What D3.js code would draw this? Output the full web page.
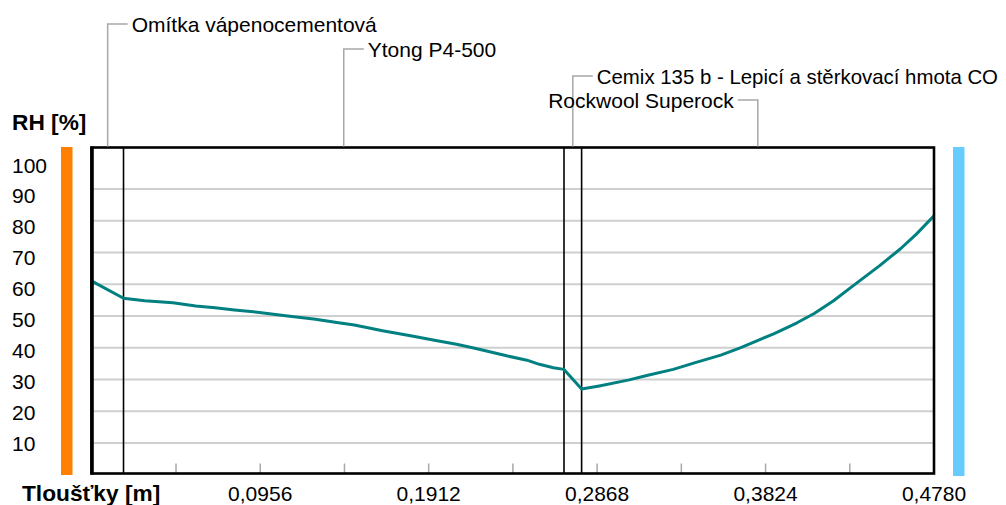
<!DOCTYPE html>
<html>
<head>
<meta charset="utf-8">
<script src="https://cdn.jsdelivr.net/npm/d3@7"></script>
<style>
  html, body { margin: 0; padding: 0; background: #fff; }
  svg { display: block; }
  text { font-family: "Liberation Sans", Arial, sans-serif; fill: #000; }
</style>
</head>
<body>
<svg id="chart" width="1006" height="505"></svg>
<script>
// ---- data ----
const layerNames = ["Omítka vápenocementová", "Ytong P4-500", "Cemix 135 b - Lepicí a stěrkovací hmota CO", "Rockwool Superock"];
const layerThickness = [0.018, 0.25, 0.01, 0.2];
const depth = [0, 0.018, 0.030, 0.046, 0.059, 0.070, 0.081, 0.094, 0.110, 0.127,
               0.140, 0.149, 0.156, 0.165, 0.173, 0.184, 0.196, 0.207, 0.218, 0.236, 0.247,
               0.254, 0.262, 0.268, 0.278, 0.288, 0.305, 0.315, 0.330, 0.343, 0.357,
               0.368, 0.387, 0.400, 0.410, 0.421, 0.432, 0.447, 0.459, 0.468, 0.478];
const rh = [61.0, 55.6, 54.8, 54.2, 53.2, 52.6, 51.9, 51.2, 50.1, 49.0,
            47.9, 47.2, 46.4, 45.4, 44.6, 43.5, 42.2, 41.1, 39.8, 37.4, 36.1,
            34.8, 33.7, 33.2, 27.0, 28.0, 29.9, 31.3, 33.2, 35.4, 37.7,
            40.0, 44.4, 47.8, 50.8, 54.8, 59.5, 65.8, 71.2, 75.8, 81.6];
const yTickValues = [10, 20, 30, 40, 50, 60, 70, 80, 90, 100];
const gridValues = [10, 20, 30, 40, 50, 60, 70, 80, 90];
const xLabelValues = [0.0956, 0.1912, 0.2868, 0.3824, 0.4780];
const yTitle = "RH [%]";
const xTitle = "Tloušťky [m]";

// ---- layout ----
const svg = d3.select("#chart");
const total = d3.sum(layerThickness);
const x = d3.scaleLinear().domain([0, total]).range([91.8, 934]);
const y = d3.scaleLinear().domain([0, 100]).range([474.8, 157.3]);
const yLabel = d3.scaleLinear().domain([10, 100]).range([443, 165]); // label centres as drawn
const plotTop = 147.5, plotBottom = 473.5;
const fmt = v => d3.format(".4f")(v).replace(".", ",");

// side bars
svg.append("rect").attr("x", 61).attr("y", 147).attr("width", 11.5).attr("height", 328).attr("fill", "#ff8000");
svg.append("rect").attr("x", 953).attr("y", 147).attr("width", 11.5).attr("height", 329).attr("fill", "#66ccff");

// gridlines
svg.append("g").selectAll("line").data(gridValues).join("line")
  .attr("x1", x(0)).attr("x2", x(total))
  .attr("y1", d => y(d)).attr("y2", d => y(d))
  .attr("stroke", "#cfcfcf").attr("stroke-width", 2);

// minor x ticks
const tickStep = total / 10;
const minorTicks = d3.range(1, 10).map(i => i * tickStep);
svg.append("g").selectAll("line").data(minorTicks).join("line")
  .attr("x1", d => x(d)).attr("x2", d => x(d))
  .attr("y1", plotBottom - 10).attr("y2", plotBottom)
  .attr("stroke", "#a8a8a8").attr("stroke-width", 1.5);

// layer boundaries
const bounds = d3.cumsum(layerThickness);
const starts = [0, ...bounds.slice(0, -1)];
svg.append("g").selectAll("line").data(bounds.slice(0, -1)).join("line")
  .attr("x1", d => x(d)).attr("x2", d => x(d))
  .attr("y1", plotTop).attr("y2", plotBottom)
  .attr("stroke", "#000").attr("stroke-width", 1.6);

// RH curve
const line = d3.line().x((d, i) => x(depth[i])).y(d => y(d));
svg.append("path").datum(rh).attr("d", line)
  .attr("fill", "none").attr("stroke", "#008080").attr("stroke-width", 3)
  .attr("stroke-linejoin", "round");

// frame
svg.append("rect").attr("x", x(0) - 0.3).attr("y", plotTop)
  .attr("width", x(total) - x(0) + 0.3).attr("height", plotBottom - plotTop)
  .attr("fill", "none").attr("stroke", "#000").attr("stroke-width", 2.6);
svg.append("line").attr("x1", 92).attr("x2", 92).attr("y1", plotTop - 1).attr("y2", plotBottom + 1)
  .attr("stroke", "#000").attr("stroke-width", 3.6);

// layer labels with leaders
const labelRows = [24, 49, 76, 100];
const labelSide = ["right", "right", "right", "left"];
const labelSize = [21, 21, 20.4, 21];
const leaders = svg.append("g");
layerNames.forEach((name, i) => {
  const mx = x(starts[i] + layerThickness[i] / 2);
  const ly = labelRows[i];
  const dir = labelSide[i] === "right" ? 1 : -1;
  leaders.append("path")
    .attr("d", `M${mx},${plotTop - 1} V${ly} H${mx + dir * 20}`)
    .attr("fill", "none").attr("stroke", "#a8a8a8").attr("stroke-width", 1.5);
  leaders.append("text")
    .attr("x", mx + dir * 24).attr("y", ly + 7.5)
    .attr("text-anchor", dir > 0 ? "start" : "end")
    .style("font-size", labelSize[i] + "px")
    .text(name);
});

// y tick labels
svg.append("g").selectAll("text").data(yTickValues).join("text")
  .attr("x", 12).attr("y", d => yLabel(d) + 7.5)
  .style("font-size", "21px")
  .text(d => d);

// x tick labels
svg.append("g").selectAll("text").data(xLabelValues).join("text")
  .attr("x", d => x(d)).attr("y", 501)
  .attr("text-anchor", "middle")
  .style("font-size", "21px")
  .text(d => fmt(d));

// titles
svg.append("text").attr("x", 12).attr("y", 130)
  .style("font-size", "22.7px").style("font-weight", "bold").text(yTitle);
svg.append("text").attr("x", 22).attr("y", 501)
  .style("font-size", "22.7px").style("font-weight", "bold").text(xTitle);
</script>
</body>
</html>
